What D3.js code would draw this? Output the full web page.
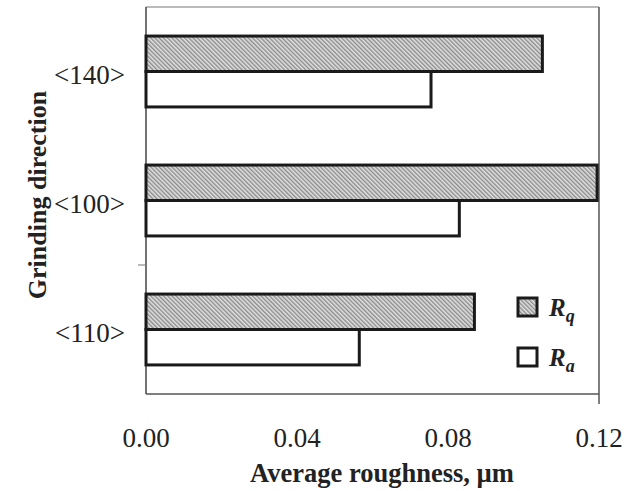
<!DOCTYPE html>
<html>
<head>
<meta charset="utf-8">
<script src="https://cdn.jsdelivr.net/npm/d3@7"></script>
<style>
  body { margin: 0; background: #fff; }
</style>
</head>
<body>
<div id="chart"></div>
<script>
// data
const directions = ['<140>', '<100>', '<110>'];
const rqValues = [0.105, 0.1195, 0.087];
const raValues = [0.0755, 0.083, 0.0565];
const xTicks = [0, 0.04, 0.08, 0.12];

const width = 643, height = 491;
const margin = { top: 7, right: 44, bottom: 97, left: 146 };
const serif = 'Liberation Serif';

const svg = d3.select('#chart').append('svg')
    .attr('width', width)
    .attr('height', height);

// fine diagonal hatch for Rq
const defs = svg.append('defs');
const pat = defs.append('pattern')
    .attr('id', 'hatch')
    .attr('patternUnits', 'userSpaceOnUse')
    .attr('width', 3)
    .attr('height', 3)
    .attr('patternTransform', 'rotate(-45)');
pat.append('rect').attr('width', 3).attr('height', 3).attr('fill', '#e2e2e2');
pat.append('rect').attr('width', 1.4).attr('height', 3).attr('fill', '#8a8a8a');

const x = d3.scaleLinear()
    .domain([0, 0.12])
    .range([margin.left, width - margin.right]);

const y = d3.scaleBand()
    .domain(directions)
    .range([margin.top, height - margin.bottom]);

const inner = d3.scaleBand()
    .domain(['Rq', 'Ra'])
    .range([0, y.bandwidth()])
    .paddingOuter(0.82)
    .paddingInner(0);

// frame
const x0 = x(0), x1 = x(0.12), y0 = margin.top, y1 = height - margin.bottom;
svg.append('line').attr('x1', x0).attr('x2', x1).attr('y1', y0).attr('y2', y0)
    .attr('stroke', '#777').attr('stroke-width', 1.2);
svg.append('line').attr('x1', x0).attr('x2', x1).attr('y1', y1).attr('y2', y1)
    .attr('stroke', '#555').attr('stroke-width', 1.5);
svg.append('line').attr('x1', x1).attr('x2', x1).attr('y1', y0).attr('y2', y1 + 10)
    .attr('stroke', '#555').attr('stroke-width', 1.5);
svg.append('line').attr('x1', x0).attr('x2', x0).attr('y1', y0).attr('y2', y1)
    .attr('stroke', '#444').attr('stroke-width', 1.5);
// the one visible band tick on the left axis
svg.append('line').attr('x1', x0 - 8).attr('x2', x0)
    .attr('y1', y(directions[2])).attr('y2', y(directions[2]))
    .attr('stroke', '#777').attr('stroke-width', 1);

// bars
const groups = svg.append('g').selectAll('g')
    .data(directions)
    .enter()
    .append('g')
    .attr('transform', d => `translate(0,${y(d)})`);

groups.append('rect')
    .attr('x', x0)
    .attr('y', inner('Rq'))
    .attr('width', (d, i) => x(rqValues[i]) - x0)
    .attr('height', inner.bandwidth())
    .attr('fill', 'url(#hatch)')
    .attr('stroke', '#1a1a1a')
    .attr('stroke-width', 3);

groups.append('rect')
    .attr('x', x0)
    .attr('y', inner('Ra'))
    .attr('width', (d, i) => x(raValues[i]) - x0)
    .attr('height', inner.bandwidth())
    .attr('fill', '#fff')
    .attr('stroke', '#1a1a1a')
    .attr('stroke-width', 3);

// category labels
svg.append('g').selectAll('text')
    .data(directions)
    .enter()
    .append('text')
    .attr('x', 125)
    .attr('y', d => y(d) + y.bandwidth() / 2)
    .attr('dy', '0.48em')
    .attr('text-anchor', 'end')
    .attr('font-family', serif)
    .attr('font-size', 27)
    .attr('fill', '#222')
    .text(d => d);

// x tick labels
svg.append('g').selectAll('text')
    .data(xTicks)
    .enter()
    .append('text')
    .attr('x', d => x(d))
    .attr('y', 447)
    .attr('text-anchor', 'middle')
    .attr('font-family', serif)
    .attr('font-size', 27)
    .attr('fill', '#222')
    .text(d => d3.format('.2f')(d));

// axis titles
svg.append('text')
    .attr('x', 382)
    .attr('y', 482)
    .attr('text-anchor', 'middle')
    .attr('font-family', serif)
    .attr('font-size', 26.5)
    .attr('font-weight', 'bold')
    .attr('fill', '#222')
    .text('Average roughness, \u00b5m');

svg.append('text')
    .attr('transform', 'translate(46,195) rotate(-90)')
    .attr('text-anchor', 'middle')
    .attr('font-family', serif)
    .attr('font-size', 26)
    .attr('font-weight', 'bold')
    .attr('fill', '#222')
    .text('Grinding direction');

// legend
const legendItems = [
    { key: 'R', sub: 'q', fill: 'url(#hatch)' },
    { key: 'R', sub: 'a', fill: '#fff' }
];
const legend = svg.append('g').attr('transform', 'translate(518,298)');
const item = legend.selectAll('g')
    .data(legendItems)
    .enter()
    .append('g')
    .attr('transform', (d, i) => `translate(0,${i * 50})`);
item.append('rect')
    .attr('width', 19)
    .attr('height', 18)
    .attr('fill', d => d.fill)
    .attr('stroke', '#1a1a1a')
    .attr('stroke-width', 3);
const lt = item.append('text')
    .attr('x', 31)
    .attr('y', 18)
    .attr('font-family', serif)
    .attr('font-size', 25)
    .attr('font-weight', 'bold')
    .attr('font-style', 'italic')
    .attr('fill', '#222');
lt.append('tspan').text(d => d.key);
lt.append('tspan').attr('dy', 6).attr('font-size', 18).text(d => d.sub);
</script>
</body>
</html>
